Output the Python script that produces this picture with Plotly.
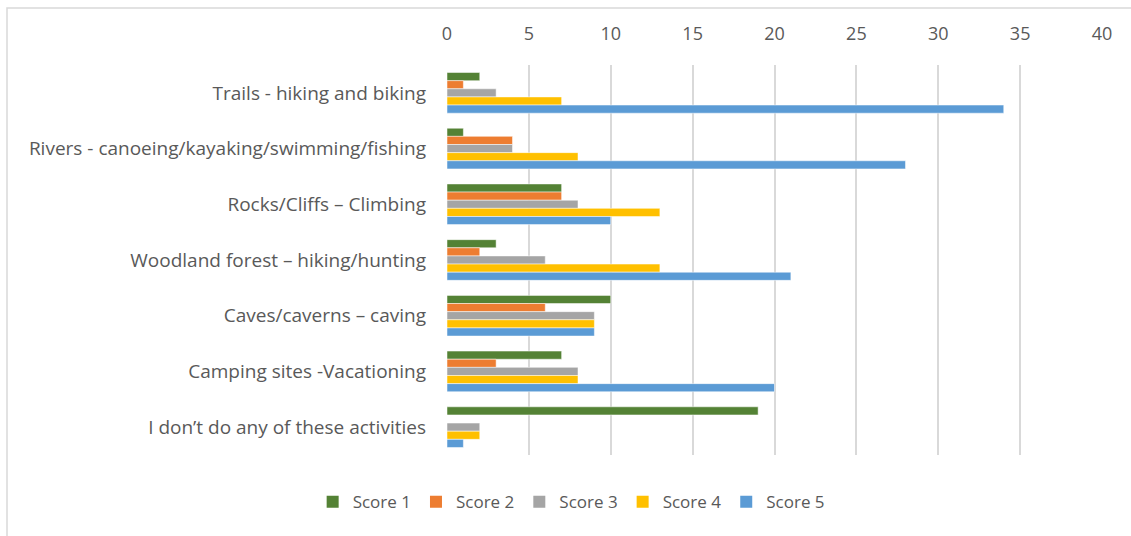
import plotly.graph_objects as go

categories = [
    "Trails - hiking and biking",
    "Rivers - canoeing/kayaking/swimming/fishing",
    "Rocks/Cliffs \u2013 Climbing",
    "Woodland forest \u2013 hiking/hunting",
    "Caves/caverns \u2013 caving",
    "Camping sites -Vacationing",
    "I don\u2019t do any of these activities",
]
score1 = [2, 1, 7, 3, 10, 7, 19]
score2 = [1, 4, 7, 2, 6, 3, 0]
score3 = [3, 4, 8, 6, 9, 8, 2]
score4 = [7, 8, 13, 13, 9, 8, 2]
score5 = [34, 28, 10, 21, 9, 20, 1]

series = [
    ("Score 1", score1, "#548235"),
    ("Score 2", score2, "#ED7D31"),
    ("Score 3", score3, "#A5A5A5"),
    ("Score 4", score4, "#FFC000"),
    ("Score 5", score5, "#5B9BD5"),
]

fig = go.Figure()
for name, vals, color in series:
    fig.add_trace(go.Bar(
        name=name, y=categories, x=vals, orientation="h", showlegend=False,
        marker=dict(color=color, line=dict(color="white", width=0.5)),
    ))
# square swatches for the legend
for name, vals, color in series:
    fig.add_trace(go.Scatter(
        name=name, x=[None], y=[None], mode="markers",
        marker=dict(symbol="square", size=12, color=color),
    ))

font_family = "'Open Sans', sans-serif"
fig.update_layout(
    width=1131, height=536,
    margin=dict(l=447, r=29, t=65, b=81),
    paper_bgcolor="white", plot_bgcolor="white",
    barmode="group", bargap=0.27, bargroupgap=0,
    font=dict(family=font_family, size=17, color="#595959"),
    xaxis=dict(
        side="top", range=[0, 40], dtick=5, showgrid=True,
        gridcolor="#D9D9D9", gridwidth=1.5, zeroline=False,
        showline=False, ticks="", ticklabelstandoff=20,
        tickfont=dict(size=18, color="#595959"),
    ),
    yaxis=dict(
        autorange="reversed", showgrid=False, showline=False, ticks="",
        ticklabelstandoff=20, tickfont=dict(size=19, color="#595959"),
    ),
    legend=dict(
        orientation="h", xref="container", x=0.505, xanchor="center",
        yref="container", y=0.063, yanchor="middle",
        font=dict(size=17, color="#595959"), traceorder="normal",
        itemwidth=30, tracegroupgap=0,
    ),
    shapes=[dict(
        type="rect", xref="paper", yref="paper",
        x0=(7 - 447) / 655, x1=(1160 - 447) / 655,
        y0=-0.5, y1=(536 - 8 - 81) / 390,
        line=dict(color="#D9D9D9", width=1.5), layer="below",
    )],
)

fig.write_html("out.html")
